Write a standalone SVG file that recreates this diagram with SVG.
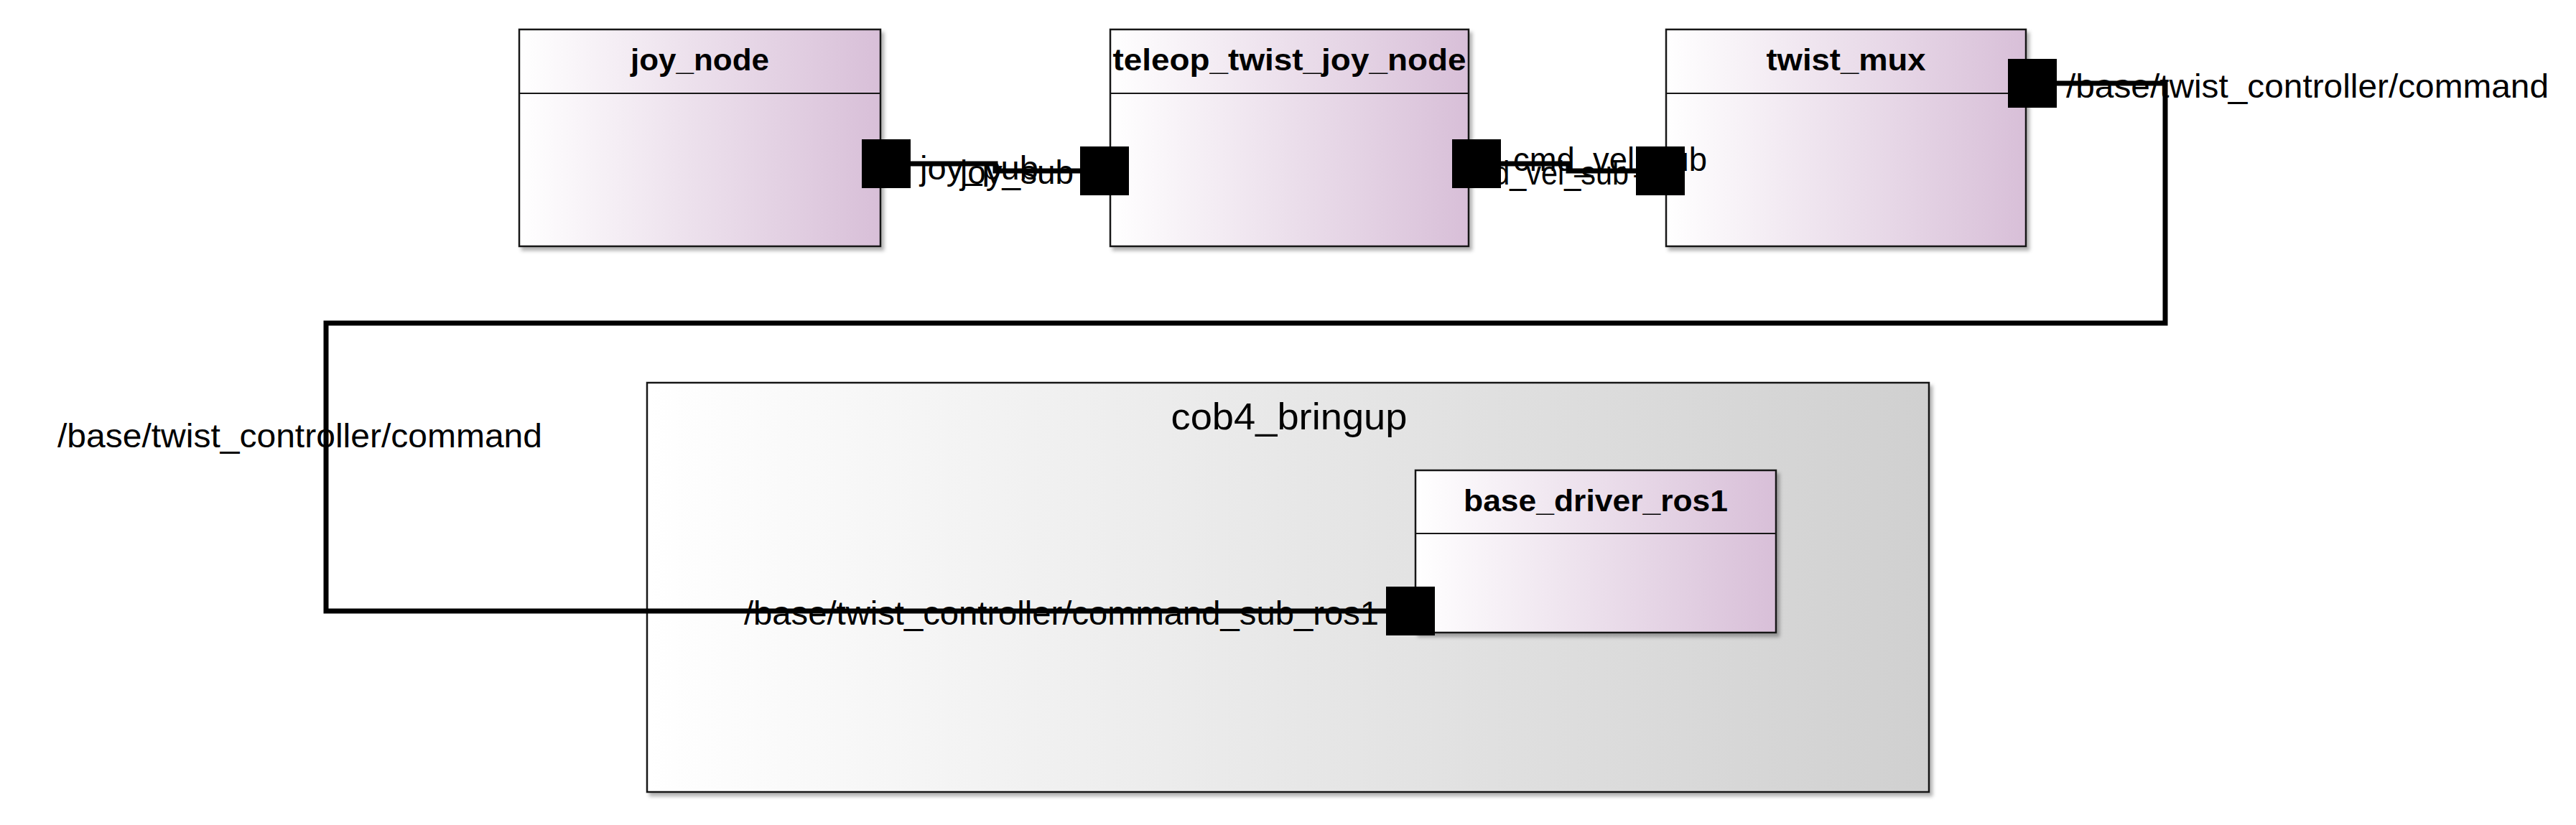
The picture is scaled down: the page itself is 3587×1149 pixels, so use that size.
<svg xmlns="http://www.w3.org/2000/svg" width="3587" height="1149" viewBox="0 0 3587 1149">
<style>
.box{stroke:#181818;stroke-width:2.5}
.node{fill:url(#gNode)}
.pkg{fill:url(#gPkg)}
.sep{stroke:#181818;stroke-width:2}
.title{font-family:"Liberation Sans",Arial,sans-serif;font-weight:bold;font-size:43px;fill:#000;text-anchor:middle}
.lbl{font-family:"Liberation Sans",Arial,sans-serif;font-size:47px;fill:#000}
.pkgt{font-family:"Liberation Sans",Arial,sans-serif;font-size:52px;fill:#000;text-anchor:middle}
.port{fill:#000}
.wire{fill:none;stroke:#000;stroke-width:7}
</style>
<defs>
<linearGradient id="gNode" x1="0" y1="0" x2="1" y2="0">
<stop offset="0" stop-color="#FFFFFF"/>
<stop offset="1" stop-color="#D8BFD8"/>
</linearGradient>
<linearGradient id="gPkg" x1="0" y1="0" x2="1" y2="0">
<stop offset="0" stop-color="#FFFFFF"/>
<stop offset="1" stop-color="#D0D0D0"/>
</linearGradient>
<filter id="sh" x="-5%" y="-5%" width="115%" height="115%">
<feDropShadow dx="4" dy="5" stdDeviation="2.5" flood-color="#000" flood-opacity="0.3"/>
</filter>
</defs>
<rect x="0" y="0" width="3587" height="1149" fill="#FFFFFF"/>

<g id="cob4_bringup">
<rect class="box pkg" x="901" y="533" width="1785" height="570" filter="url(#sh)"/>
<text class="pkgt" x="1795" y="598" textLength="329" lengthAdjust="spacingAndGlyphs">cob4_bringup</text>
</g>

<g id="joy_node">
<rect class="box node" x="723" y="41" width="503" height="302" filter="url(#sh)"/>
<line class="sep" x1="723" y1="130" x2="1226" y2="130"/>
<text class="title" x="974.5" y="98" textLength="193" lengthAdjust="spacingAndGlyphs">joy_node</text>
<rect class="port" x="1200" y="194" width="68" height="68"/>
</g>

<g id="teleop_twist_joy_node">
<rect class="box node" x="1546" y="41" width="499" height="302" filter="url(#sh)"/>
<line class="sep" x1="1546" y1="130" x2="2045" y2="130"/>
<text class="title" x="1795.5" y="98" textLength="492" lengthAdjust="spacingAndGlyphs">teleop_twist_joy_node</text>
<rect class="port" x="1504" y="204" width="68" height="68"/>
<rect class="port" x="2022" y="194" width="68" height="68"/>
</g>

<g id="twist_mux">
<rect class="box node" x="2320" y="41" width="501" height="302" filter="url(#sh)"/>
<line class="sep" x1="2320" y1="130" x2="2821" y2="130"/>
<text class="title" x="2570.5" y="98" textLength="222" lengthAdjust="spacingAndGlyphs">twist_mux</text>
<rect class="port" x="2278" y="204" width="68" height="68"/>
<rect class="port" x="2796" y="82" width="68" height="68"/>
</g>

<g id="base_driver_ros1">
<rect class="box node" x="1971" y="655" width="502" height="226" filter="url(#sh)"/>
<line class="sep" x1="1971" y1="743" x2="2473" y2="743"/>
<text class="title" x="2222" y="712" textLength="368" lengthAdjust="spacingAndGlyphs">base_driver_ros1</text>
<rect class="port" x="1930" y="817" width="68" height="68"/>
</g>

<g id="connectors">
<path class="wire" d="M1268,228 H1386 V238 H1504"/>
<path class="wire" d="M2090,228 H2184 V238 H2278"/>
<path class="wire" d="M2864,116 H3015 V450 H454 V851 H1930"/>
</g>

<g id="labels">
<text class="lbl" x="1281" y="250" textLength="165" lengthAdjust="spacingAndGlyphs">joy_pub</text>
<text class="lbl" x="1495" y="256" text-anchor="end" textLength="158" lengthAdjust="spacingAndGlyphs">joy_sub</text>
<text class="lbl" x="2107" y="238" textLength="270" lengthAdjust="spacingAndGlyphs">cmd_vel_pub</text>
<text class="lbl" x="2268" y="257" text-anchor="end" textLength="244" lengthAdjust="spacingAndGlyphs">cmd_vel_sub</text>
<text class="lbl" x="2877" y="136" textLength="672" lengthAdjust="spacingAndGlyphs">/base/twist_controller/command</text>
<text class="lbl" x="80" y="623" textLength="675" lengthAdjust="spacingAndGlyphs">/base/twist_controller/command</text>
<text class="lbl" x="1036" y="870" textLength="884" lengthAdjust="spacingAndGlyphs">/base/twist_controller/command_sub_ros1</text>
</g>
<g id="ports-top">
<rect class="port" x="1200" y="194" width="68" height="68"/>
<rect class="port" x="1504" y="204" width="68" height="68"/>
<rect class="port" x="2022" y="194" width="68" height="68"/>
<rect class="port" x="2278" y="204" width="68" height="68"/>
<rect class="port" x="2796" y="82" width="68" height="68"/>
<rect class="port" x="1930" y="817" width="68" height="68"/>
</g>
</svg>
